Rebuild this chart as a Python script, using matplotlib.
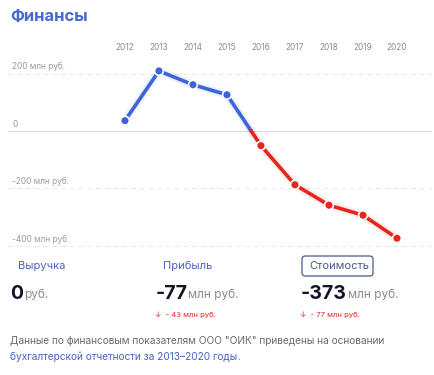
import numpy as np
import matplotlib.pyplot as plt
from matplotlib.patches import FancyBboxPatch

plt.rcParams['font.family'] = ['Inter', 'DejaVu Sans']

years = [2012, 2013, 2014, 2015, 2016, 2017, 2018, 2019, 2020]
values = [36, 209, 161, 126, -51, -187, -258, -293, -373]  # млн руб.
grid_vals = [200, 0, -200, -400]
grid_labels = ["200 млн руб.", "0", "-200 млн руб.", "-400 млн руб."]

blue = "#3d64d8"
red = "#e5261e"
link = "#4a62c4"
gray = "#8a8a8a"

W, H = 435, 375
fig = plt.figure(figsize=(W / 100, H / 100), dpi=100)


def fx(px):
    return px / W


def fy(py):
    return 1 - py / H


# chart area: pixels x 8..432, y 60..250
ax = fig.add_axes([fx(8), fy(250), fx(432) - fx(8), fy(60) - fy(250)])
ax.set_xlim(2008.56, 2021.03)
ax.set_ylim(-414, 247)
for s in ax.spines.values():
    s.set_visible(False)
ax.set_yticks([])
ax.xaxis.tick_top()
ax.set_xticks(years)
ax.set_xticklabels([str(y) for y in years], fontsize=6, color="#8c8c8c")
ax.tick_params(axis="x", length=0, pad=6)

for v, lab in zip(grid_vals, grid_labels):
    if v == 0:
        ax.axhline(v, color="#dcdcdc", lw=0.8, zorder=0)
    else:
        ax.axhline(v, color="#e8e8e8", lw=0.7, ls=(0, (5, 4)), zorder=0)
    ax.text(2008.68, v + 8, lab, fontsize=6, color="#9a9a9a", va="bottom", ha="left")

x = np.array(years, dtype=float)
y = np.array(values, dtype=float)
# split the line where it crosses zero
i = np.where(y < 0)[0][0]
x0 = x[i - 1] + (x[i] - x[i - 1]) * y[i - 1] / (y[i - 1] - y[i])
xb = np.append(x[:i], x0)
yb = np.append(y[:i], 0)
xr = np.insert(x[i:], 0, x0)
yr = np.insert(y[i:], 0, 0)

for xs, ys, c in [(xb, yb, blue), (xr, yr, red)]:
    ax.plot(xs, ys, color=c, lw=6, alpha=0.08, solid_capstyle="round")
    ax.plot(xs, ys, color=c, lw=2.6, solid_capstyle="round")

cols = [blue if v >= 0 else red for v in values]
ax.scatter(x, y, s=40, c=cols, edgecolors="white", linewidths=1.2, zorder=5)

# title
fig.text(fx(10), fy(16), "Финансы", fontsize=12, fontweight="bold", color="#4a68cf",
         va="center", ha="left")

# bottom indicators
fig.text(fx(18), fy(266), "Выручка", fontsize=8, color=link, va="center")
fig.text(fx(163), fy(266), "Прибыль", fontsize=8, color=link, va="center")
fig.text(fx(309), fy(266), "Стоимость", fontsize=8, color="#4a5a8a", va="center")
box = FancyBboxPatch((fx(302), fy(276)), fx(373) - fx(302), fy(256) - fy(276),
                     boxstyle="round,pad=0,rounding_size=0.008", transform=fig.transFigure,
                     fill=False, edgecolor="#4a5a8a", lw=0.9)
fig.patches.append(box)

fig.text(fx(10), fy(294), "0", fontsize=14, fontweight="bold", color="#141428", va="center")
fig.text(fx(24), fy(295), "руб.", fontsize=8.5, color=gray, va="center")
fig.text(fx(156), fy(294), "-77", fontsize=14, fontweight="bold", color="#141428", va="center")
fig.text(fx(188), fy(295), "млн руб.", fontsize=8.5, color=gray, va="center")
fig.text(fx(301), fy(294), "-373", fontsize=14, fontweight="bold", color="#141428", va="center")
fig.text(fx(348), fy(295), "млн руб.", fontsize=8.5, color=gray, va="center")

fig.text(fx(155), fy(315), "↓  - 43 млн руб.", fontsize=5.5, color=red, va="center")
fig.text(fx(300), fy(315), "↓  - 77 млн руб.", fontsize=5.5, color=red, va="center")

fig.text(fx(10), fy(341), 'Данные по финансовым показателям ООО "ОИК" приведены на основании',
         fontsize=7.3, color="#6a6a6a", va="center")
t = fig.text(fx(10), fy(357), "бухгалтерской отчетности за 2013–2020 годы", fontsize=7.3,
             color=link, va="center")
fig.canvas.draw()
bb = t.get_window_extent()
fig.text(bb.x1 / W, fy(357), ".", fontsize=7.3, color="#6a6a6a", va="center")

fig.savefig("out.png", dpi=100, facecolor="white")
